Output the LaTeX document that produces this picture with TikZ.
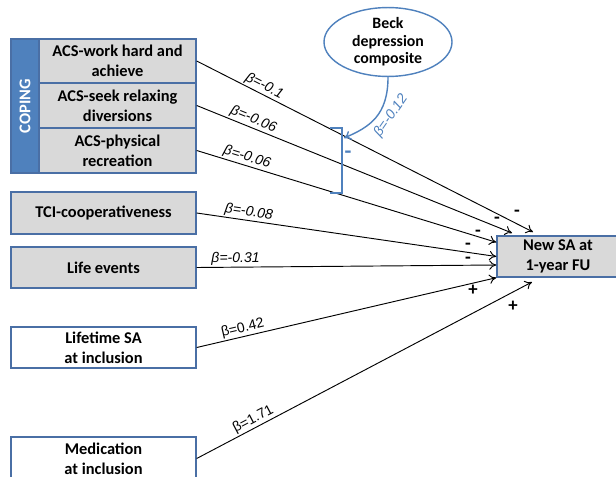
\documentclass[tikz,border=0pt]{standalone}
\usepackage{fontspec}
\setmainfont{Carlito}
\newfontfamily\arialfont{Liberation Sans}
\usepackage{xcolor}
\usepackage{tikz}
\usetikzlibrary{calc,shapes.geometric,arrows.meta}
\definecolor{frame}{HTML}{4A6FA5}
\definecolor{copingblue}{HTML}{4F81BD}
\definecolor{boxgray}{HTML}{D9D9D9}
\definecolor{linkblue}{HTML}{4F81BD}
\def\px{0.03cm}
\tikzset{
  var/.style={draw=frame, line width=1.2pt, fill=boxgray, align=center, inner sep=0pt,
    font=\fontsize{14}{17}\selectfont\bfseries},
  plainvar/.style={var, fill=white},
  coping/.style={draw=frame, line width=1.2pt, fill=copingblue, inner sep=0pt},
  link/.style={draw=black, line width=0.8pt, -{To[length=6pt,width=8pt]}},
  bluelink/.style={draw=linkblue, line width=1.2pt, -{To[length=6pt,width=8pt]}},
  beta/.style={sloped, above, inner sep=1pt, font=\arialfont\itshape\fontsize{12}{12}\selectfont},
  betaup/.style={beta, font=\arialfont\fontsize{12}{12}\selectfont},
  sign/.style={inner sep=0pt, font=\fontsize{16}{16}\selectfont\bfseries},
}

\begin{document}
\begin{tikzpicture}[x=0.03cm, y=-0.03cm]
  \useasboundingbox (0,0) rectangle (616,476);
  \clip (0,0) rectangle (616,476);

  % coping block
  \node[coping, minimum width=28*\px, minimum height=134*\px] (coping) at (25,106) {};
  \node[rotate=90, text=white, font=\fontsize{14}{14}\selectfont\bfseries] at (coping) {COPING};
  \node[var, minimum width=157*\px, minimum height=44*\px] (work) at (117.5,61) {ACS-work hard and\\achieve};
  \node[var, minimum width=157*\px, minimum height=45*\px] (seek) at (117.5,105.5) {ACS-seek relaxing\\diversions};
  \node[var, minimum width=157*\px, minimum height=45*\px] (phys) at (117.5,150.5) {ACS-physical\\recreation};

  % other predictors
  \node[var, minimum width=185*\px, minimum height=42*\px] (tci) at (103.5,213) {TCI-cooperativeness};
  \node[var, minimum width=185*\px, minimum height=41*\px] (life) at (103.5,267.5) {Life events};
  \node[plainvar, minimum width=185*\px, minimum height=41*\px] (lifetime) at (103.5,347.5) {Lifetime SA\\at inclusion};
  \node[plainvar, minimum width=185*\px, minimum height=43*\px] (medic) at (103.5,458.5) {Medication\\at inclusion};

  % outcome and moderator
  \node[var, minimum width=122*\px, minimum height=41*\px] (fu) at (558,256.5) {New SA at\\1-year FU};
  \node[ellipse, draw=linkblue, line width=1.2pt, fill=white, inner sep=0pt,
    minimum width=128*\px, minimum height=53*\px, align=center,
    font=\fontsize{13.5}{15}\selectfont\bfseries] (beck) at (388,42) {Beck\\depression\\composite};

  % arrow ends at the outcome
  \coordinate (t1) at (533,232);
  \coordinate (t2) at (512,233);
  \coordinate (t3) at ($(fu.north west)+(0,7)$);
  \coordinate (t4) at (fu.west);
  \coordinate (t5) at ($(fu.west)+(0,8.5)$);
  \coordinate (t6) at (fu.south west);
  \coordinate (t7) at (532,282);

  \draw[link] (work.east) -- node[beta, pos=0.19] {β=-0.1} (t1);
  \draw[link] (seek.east) -- node[beta, pos=0.17] {β=-0.06} (t2);
  \draw[link] (phys.east) -- node[beta, pos=0.16] {β=-0.06} (t3);
  \draw[link] (tci.east) -- node[beta, pos=0.17] {β=-0.08} (t4);
  \draw[link] (life.east) -- node[beta, pos=0.13] {β=-0.31} (t5);
  \draw[link] (lifetime.east) -- node[betaup, pos=0.16] {β=0.42} (t6);
  \draw[link] (medic.east) -- node[betaup, pos=0.18] {β=1.71} (t7);

  % moderation on the ACS paths
  \draw[draw=linkblue, line width=1.2pt] (330,128) -| (342,193) -- (330,193);
  \coordinate (brk) at (344,138);
  \draw[bluelink] (beck.south) .. controls (388,115) and (370,127) .. (brk);
  \node[rotate=55, text=linkblue, inner sep=0pt, font=\arialfont\itshape\fontsize{12}{12}\selectfont] (bmod) at (391,116) {β=-0.12};
  \node[sign, text=linkblue, font=\fontsize{19}{19}\selectfont\bfseries] (bminus) at (348,155) {-};

  % signs
  \node[sign] (s1) at (517,213) {-};
  \node[sign] (s2) at (497,220) {-};
  \node[sign] (s3) at (478,233) {-};
  \node[sign] (s4) at (468,246) {-};
  \node[sign] (s5) at (468,260) {-};
  \node[sign] (s6) at (473,290) {+};
  \node[sign] (s7) at (513,306) {+};
\end{tikzpicture}
\end{document}
